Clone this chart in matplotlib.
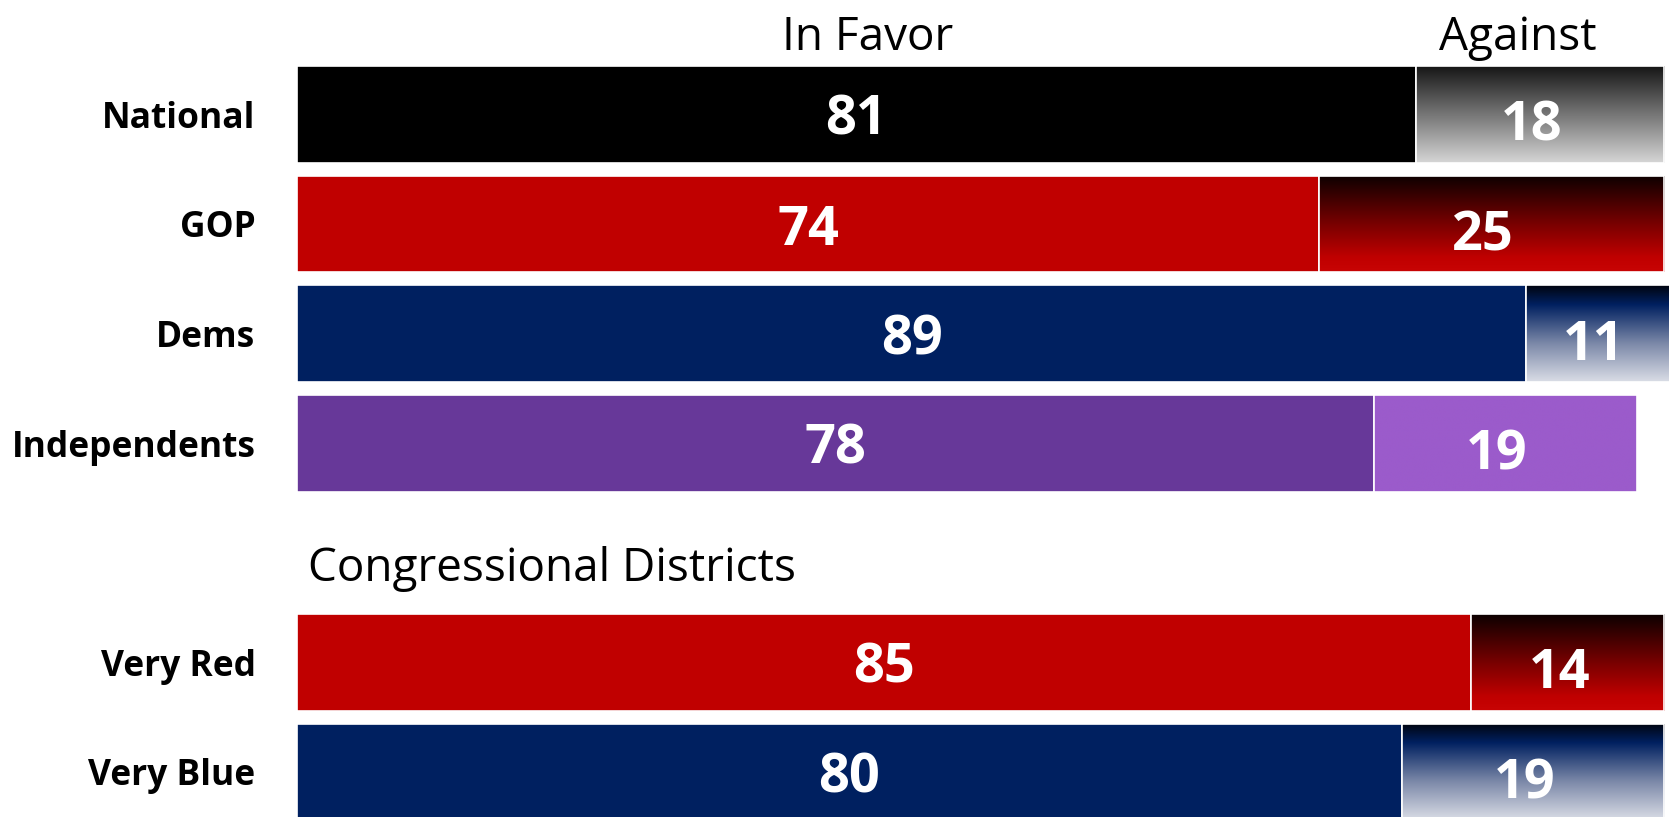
import matplotlib
matplotlib.use("Agg")
import matplotlib.pyplot as plt
import numpy as np
from matplotlib.colors import LinearSegmentedColormap

# survey results, percent
groups = ["National", "GOP", "Dems", "Independents", "Very Red", "Very Blue"]
in_favor = [81, 74, 89, 78, 85, 80]
against = [18, 25, 11, 19, 14, 19]
rows = [0, 1, 2, 3, 5, 6]  # row 4 left empty for the districts header

# colours for the solid "in favor" part and the shaded "against" part
favor_colors = ["#000000", "#c00000", "#002060", "#673899", "#c00000", "#002060"]
shade_black = [(0.0, "#161616"), (1.0, "#d6d6d6")]
shade_red = [(0.0, "#0c0000"), (0.5, "#780000"), (0.85, "#c00000"), (1.0, "#c80404")]
shade_blue = [(0.0, "#00040e"), (0.2, "#002060"), (0.6, "#7b88a8"), (1.0, "#dadde6")]
shade_purple = [(0.0, "#9b5bcb"), (1.0, "#9b5bcb")]
against_shades = [shade_black, shade_red, shade_blue, shade_purple, shade_red, shade_blue]

W, H, DPI = 16.69, 8.17, 100
fig = plt.figure(figsize=(W, H), dpi=DPI)
ax = fig.add_axes([0, 0, 1, 1])

bar_h = 0.884
font = ["Open Sans", "DejaVu Sans"]

ax.barh(rows, in_favor, height=bar_h, color=favor_colors,
        edgecolor="white", linewidth=1.2, zorder=2)
against_bars = ax.barh(rows, against, left=in_favor, height=bar_h,
                       color="none", edgecolor="white", linewidth=1.2, zorder=4)

grad = np.linspace(0, 1, 256).reshape(-1, 1)
for bar, shade in zip(against_bars, against_shades):
    x0, y0 = bar.get_x(), bar.get_y()
    w, h = bar.get_width(), bar.get_height()
    cmap = LinearSegmentedColormap.from_list("shade", shade)
    im = ax.imshow(grad, cmap=cmap, aspect="auto", interpolation="bilinear",
                   extent=(x0, x0 + w, y0 + h, y0), origin="upper", zorder=3)
    im.set_clip_path(bar)

for r, f, a in zip(rows, in_favor, against):
    ax.text(f / 2, r + 0.06, str(f), ha="center", va="center", color="white",
            fontsize=39, fontweight="bold", family=font, zorder=5)
    ax.text(f + a / 2 - 0.6, r + 0.11, str(a), ha="center", va="center", color="white",
            fontsize=39, fontweight="bold", family=font, zorder=5)

for r, g in zip(rows, groups):
    ax.text(-3.0, r + 0.04, g, ha="right", va="center", color="black",
            fontsize=25.5, fontweight="bold", family=font)

ax.text(41.3, -0.70, "In Favor", ha="center", va="center", fontsize=33, family=font)
ax.text(88.4, -0.70, "Against", ha="center", va="center", fontsize=33, family=font)
ax.text(0.8, 4.15, "Congressional Districts", ha="left", va="center", fontsize=33, family=font)

# pixel-aligned data window: 13.81 px per percent, 109.6 px per row
ax.set_xlim(-297 / 13.81, (W * DPI - 297) / 13.81)
ax.set_ylim((H * DPI - 114.4) / 109.6, -114.4 / 109.6)
ax.axis("off")

fig.savefig("out.png", dpi=DPI, facecolor="white")
